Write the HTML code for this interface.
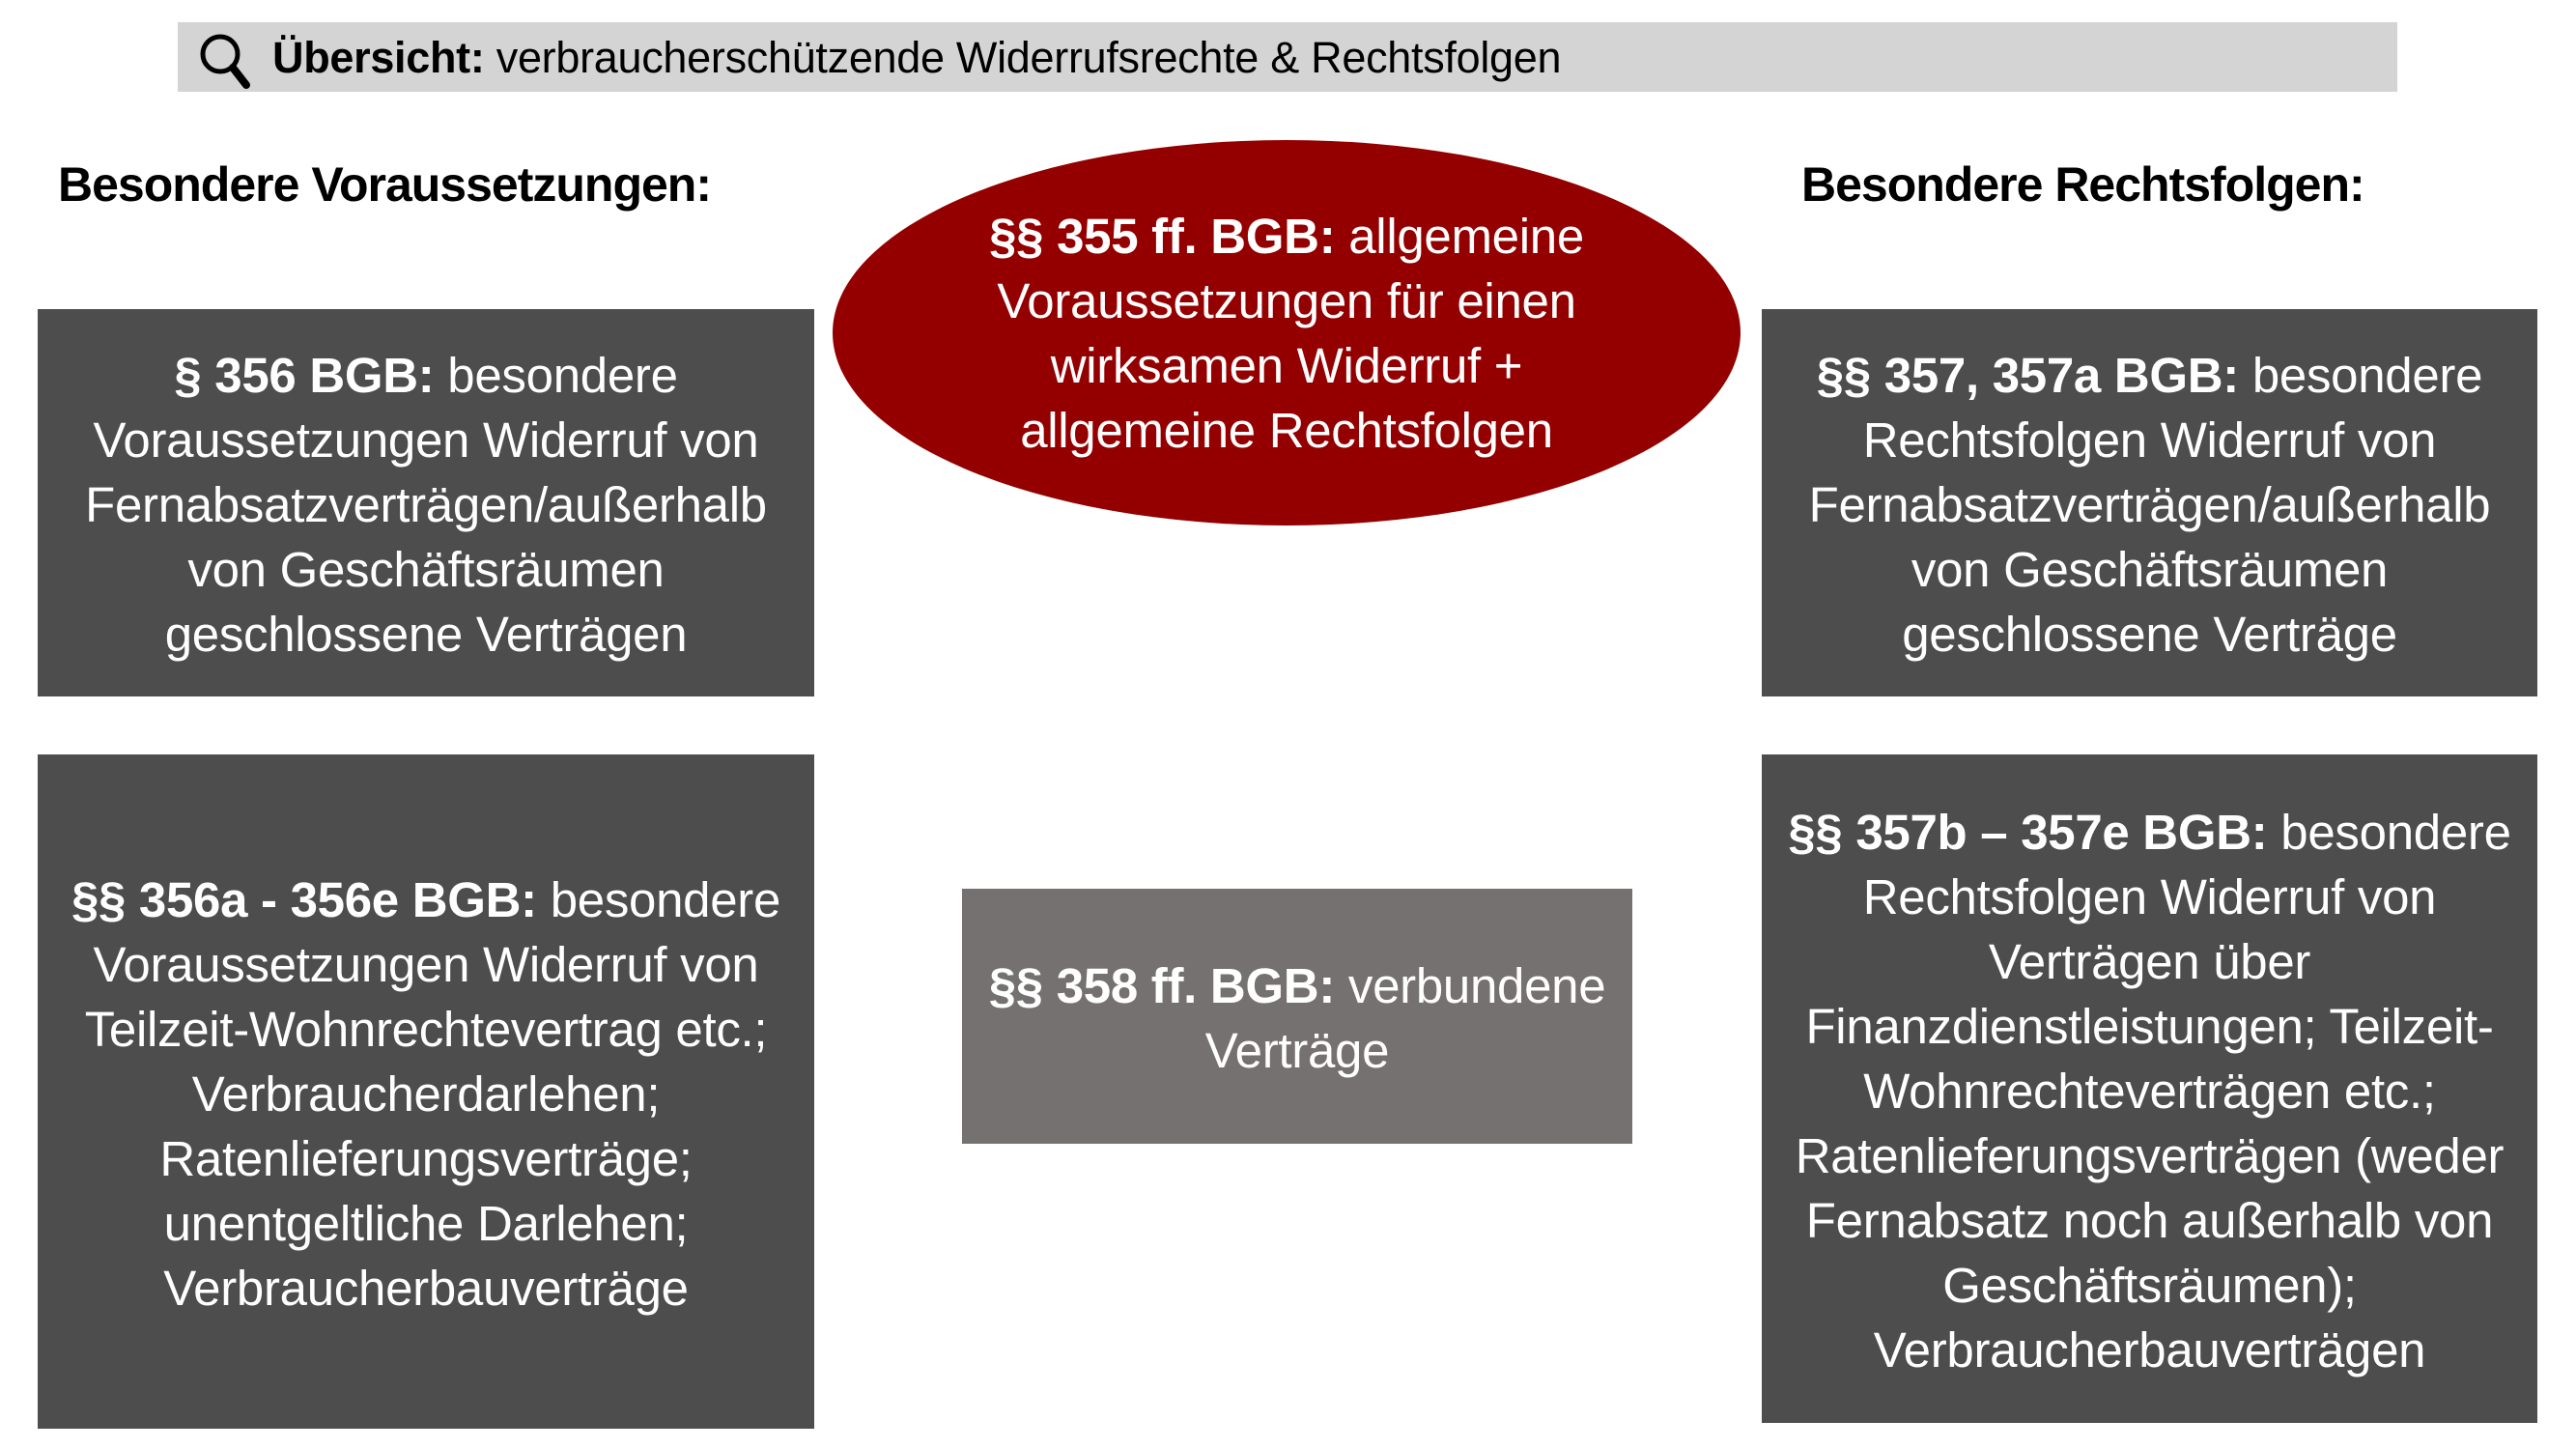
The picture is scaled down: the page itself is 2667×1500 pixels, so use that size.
<!DOCTYPE html>
<html><head><meta charset="utf-8"><style>
body{margin:0;width:2667px;height:1500px;background:#fff;position:relative;overflow:hidden;font-family:"Liberation Sans",sans-serif}
.a{position:absolute;box-sizing:border-box;display:flex;align-items:center;justify-content:center;text-align:center;color:#fff;font-size:51px;line-height:67px;letter-spacing:-0.3px}
.box{background:#4d4d4d}
b{font-weight:bold}
.h{position:absolute;font-weight:bold;font-size:50px;color:#000;letter-spacing:-1px}
</style></head><body>
<div style="position:absolute;left:184px;top:23px;width:2298px;height:72px;background:#d4d4d4"></div>
<svg style="position:absolute;left:200px;top:30px" width="70" height="64" viewBox="0 0 70 64"><circle cx="28" cy="26" r="18" fill="none" stroke="#000" stroke-width="5"/><line x1="41" y1="40" x2="55" y2="58" stroke="#000" stroke-width="8" stroke-linecap="round"/></svg>
<div style="position:absolute;left:282px;top:30px;font-size:45px;line-height:60px;letter-spacing:-0.3px;color:#000"><b>Übersicht:</b> verbraucherschützende Widerrufsrechte &amp; Rechtsfolgen</div>
<div class="h" style="left:60px;top:162px">Besondere Voraussetzungen:</div>
<div class="h" style="left:1865px;top:162px">Besondere Rechtsfolgen:</div>
<div class="a" style="left:862px;top:145px;width:940px;height:399px;border-radius:50%;background:#940000;padding-top:0px"><div><b>§§ 355 ff. BGB:</b> allgemeine<br>Voraussetzungen für einen<br>wirksamen Widerruf +<br>allgemeine Rechtsfolgen</div></div>
<div class="a box" style="left:39px;top:320px;width:804px;height:401px;padding-top:4px"><div><b>§ 356 BGB:</b> besondere<br>Voraussetzungen Widerruf von<br>Fernabsatzverträgen/außerhalb<br>von Geschäftsräumen<br>geschlossene Verträgen</div></div>
<div class="a box" style="left:39px;top:781px;width:804px;height:698px;padding-top:4px"><div><b>§§ 356a - 356e BGB:</b> besondere<br>Voraussetzungen Widerruf von<br>Teilzeit-Wohnrechtevertrag etc.;<br>Verbraucherdarlehen;<br>Ratenlieferungsverträge;<br>unentgeltliche Darlehen;<br>Verbraucherbauverträge</div></div>
<div class="a" style="left:996px;top:920px;width:694px;height:264px;background:#767171;padding-top:4px"><div><b>§§ 358 ff. BGB:</b> verbundene<br>Verträge</div></div>
<div class="a box" style="left:1824px;top:320px;width:803px;height:401px;padding-top:4px"><div><b>§§ 357, 357a BGB:</b> besondere<br>Rechtsfolgen Widerruf von<br>Fernabsatzverträgen/außerhalb<br>von Geschäftsräumen<br>geschlossene Verträge</div></div>
<div class="a box" style="left:1824px;top:781px;width:803px;height:692px;padding-top:4px"><div><b>§§ 357b – 357e BGB:</b> besondere<br>Rechtsfolgen Widerruf von<br>Verträgen über<br>Finanzdienstleistungen; Teilzeit-<br>Wohnrechteverträgen etc.;<br>Ratenlieferungsverträgen (weder<br>Fernabsatz noch außerhalb von<br>Geschäftsräumen);<br>Verbraucherbauverträgen</div></div>
</body></html>
